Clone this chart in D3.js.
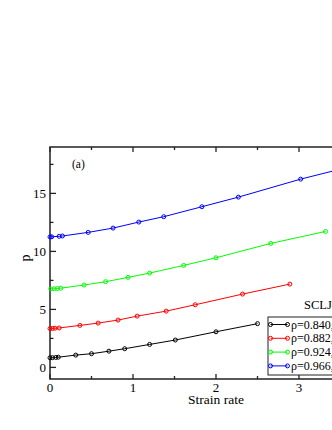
<!DOCTYPE html>
<html>
<head>
<meta charset="utf-8">
<script src="https://cdn.jsdelivr.net/npm/d3@7"></script>
<style>
  body { margin: 0; background: #fff; }
  svg { display: block; font-family: "Liberation Serif", "DejaVu Serif", serif; }
</style>
</head>
<body>
<svg id="chart"></svg>
<script>
// data
const seriesNames = ['ρ=0.840,', 'ρ=0.882,', 'ρ=0.924,', 'ρ=0.966,'];
const seriesColors = ['#000000', '#ff0000', '#00ff00', '#0000ff'];

const rate840 = [0, 0.03, 0.07, 0.1, 0.31, 0.5, 0.71, 0.9, 1.2, 1.51, 2.0, 2.5];
const p840 = [0.83, 0.84, 0.86, 0.88, 1.06, 1.18, 1.4, 1.61, 1.98, 2.36, 3.07, 3.77];

const rate882 = [0, 0.03, 0.06, 0.11, 0.36, 0.58, 0.82, 1.05, 1.4, 1.75, 2.32, 2.89];
const p882 = [3.35, 3.36, 3.38, 3.4, 3.62, 3.82, 4.08, 4.42, 4.85, 5.4, 6.32, 7.18];

const rate924 = [0.01, 0.05, 0.09, 0.13, 0.41, 0.67, 0.94, 1.2, 1.61, 2.0, 2.66, 3.32];
const p924 = [6.77, 6.78, 6.8, 6.83, 7.1, 7.39, 7.76, 8.13, 8.79, 9.45, 10.69, 11.72];

const rate966 = [0, 0.02, 0.11, 0.15, 0.46, 0.76, 1.07, 1.37, 1.83, 2.27, 3.02, 3.78];
const p966 = [11.25, 11.26, 11.3, 11.33, 11.64, 12.01, 12.53, 12.99, 13.85, 14.68, 16.23, 17.6];

const xTicks = [0, 1, 2, 3];
const yTicks = [0, 5, 10, 15];

const rates = [rate840, rate882, rate924, rate966];
const pressures = [p840, p882, p924, p966];

const W = 332, H = 430;
const margin = {left: 50, top: 147};
const width = 332, height = 232;

const svg = d3.select('#chart').attr('width', W).attr('height', H);
const g = svg.append('g').attr('transform', `translate(${margin.left},${margin.top})`);

const xs = d3.scaleLinear().domain([0, 4]).range([0, width]);
const ys = d3.scaleLinear().domain([-1, 19]).range([height, 0]);

const series = seriesNames.map((name, i) => ({
  name: name,
  color: seriesColors[i],
  values: rates[i].map((r, j) => ({x: r, y: pressures[i][j]}))
}));

// frame
g.append('rect')
  .attr('width', width).attr('height', height)
  .attr('fill', 'none').attr('stroke', '#222').attr('stroke-width', 1.5);

// ticks, pointing inwards; minor ticks halfway
const xMinor = d3.range(0.5, 4, 1);
const yMinor = d3.range(-2.5, 19, 5).filter(v => v > -1);

function tickLines(vals, len, horizontal, atEnd) {
  vals.forEach(v => {
    if (horizontal) {
      const x = xs(v);
      if (atEnd) g.append('line').attr('x1', x).attr('x2', x).attr('y1', 0).attr('y2', len);
      else g.append('line').attr('x1', x).attr('x2', x).attr('y1', height).attr('y2', height - len);
    } else {
      const y = ys(v);
      g.append('line').attr('x1', 0).attr('x2', len).attr('y1', y).attr('y2', y);
    }
  });
}
tickLines(xTicks, 5, true, false);
tickLines(xTicks, 5, true, true);
tickLines(xMinor, 3, true, false);
tickLines(xMinor, 3, true, true);
tickLines(yTicks, 6, false);
tickLines(yMinor, 3.5, false);
g.selectAll('line').attr('stroke', '#222').attr('stroke-width', 1.3);

// tick labels
g.selectAll('.xl').data(xTicks).enter().append('text')
  .attr('x', d => xs(d)).attr('y', height + 13)
  .attr('text-anchor', 'middle').attr('font-size', 13)
  .text(d => d);

g.selectAll('.yl').data(yTicks).enter().append('text')
  .attr('x', -4).attr('y', d => ys(d) + 5)
  .attr('text-anchor', 'end').attr('font-size', 13)
  .text(d => d);

// axis titles
g.append('text')
  .attr('x', width / 2).attr('y', height + 25)
  .attr('text-anchor', 'middle').attr('font-size', 13.5)
  .text('Strain rate');

g.append('text')
  .attr('transform', `translate(-20,${height / 2 - 5}) rotate(-90)`)
  .attr('text-anchor', 'middle').attr('font-size', 14)
  .text('p');

g.append('text')
  .attr('x', 22).attr('y', 21).attr('font-size', 11.5)
  .text('(a)');

// lines + open circles
const line = d3.line().x(d => xs(d.x)).y(d => ys(d.y));
series.forEach(s => {
  g.append('path').datum(s.values)
    .attr('d', line).attr('fill', 'none')
    .attr('stroke', s.color).attr('stroke-width', 1);
  g.selectAll(null).data(s.values).enter().append('circle')
    .attr('cx', d => xs(d.x)).attr('cy', d => ys(d.y)).attr('r', 2)
    .attr('fill', 'none').attr('stroke', s.color).attr('stroke-width', 1);
});

// legend
const lx = 218, ly = 170;
g.append('text').attr('x', lx + 36).attr('y', ly - 8)
  .attr('font-size', 12.5).text('SCLJ');
g.append('rect')
  .attr('x', lx).attr('y', ly).attr('width', 140).attr('height', 58)
  .attr('fill', '#fff').attr('stroke', '#222').attr('stroke-width', 1);

const leg = g.selectAll('.legend').data(series).enter().append('g')
  .attr('transform', (d, i) => `translate(${lx},${ly + 7.5 + i * 13.8})`);
leg.append('line').attr('x1', 2.5).attr('x2', 19.5)
  .attr('stroke', d => d.color).attr('stroke-width', 1);
leg.append('circle').attr('cx', 2.5).attr('r', 2)
  .attr('fill', 'none').attr('stroke', d => d.color);
leg.append('circle').attr('cx', 19.5).attr('r', 2)
  .attr('fill', 'none').attr('stroke', d => d.color);
leg.append('text').attr('x', 23).attr('y', 4)
  .attr('font-size', 12).text(d => d.name);
</script>
</body>
</html>
